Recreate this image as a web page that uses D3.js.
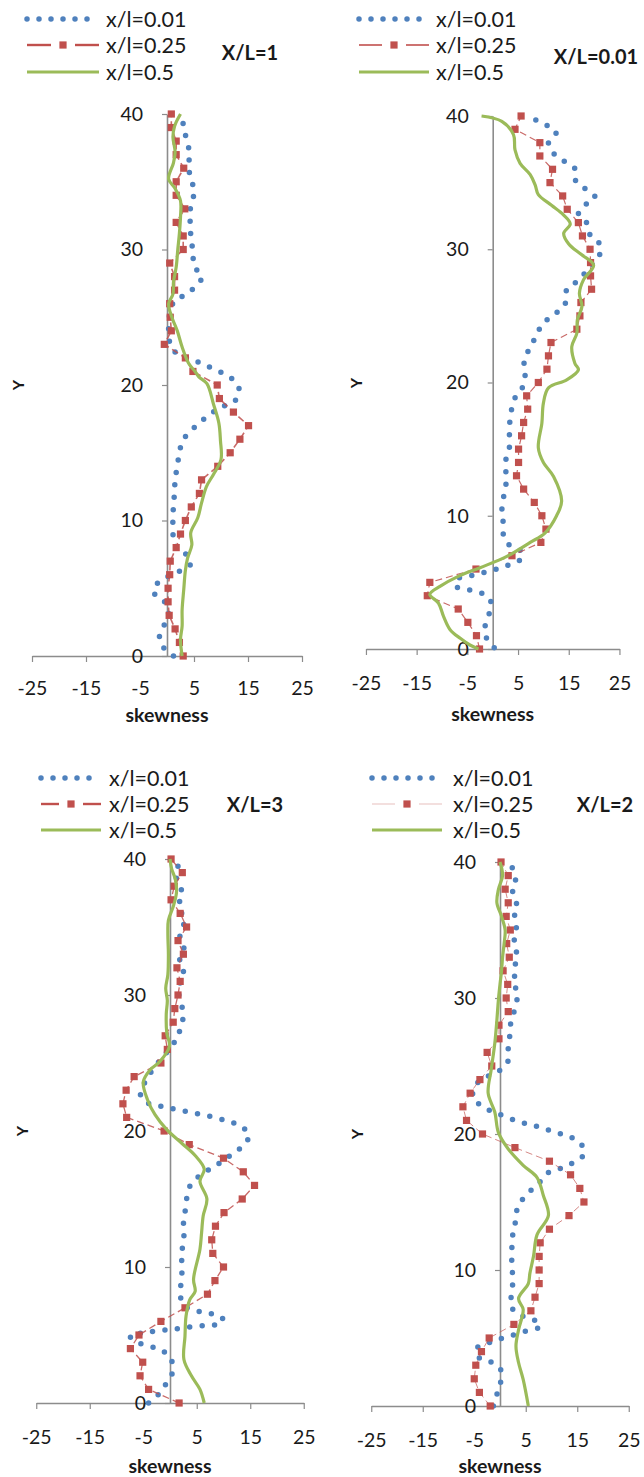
<!DOCTYPE html>
<html>
<head>
<meta charset="utf-8">
<script src="https://cdn.jsdelivr.net/npm/d3@7"></script>
<style>
  html, body { margin: 0; padding: 0; background: #fff; }
  svg { display: block; font-family: Lato, "Open Sans", sans-serif; }
</style>
</head>
<body>
<svg id="chart" width="644" height="1477"></svg>
<script>
// ---- data -------------------------------------------------------------
// Y stations of the x/l=0.25 profiles
const levels = [0,1,2,3,4,5,6,7,8,9,10,11,12,13,14,15,16,17,18,19,20,
                21,22,23,24,25,26,27,28,29,30,31,32,33,34,35,36,37,38,39,40];
const xTickValues = [-25, -15, -5, 5, 15, 25];
const yTickValues = [0, 10, 20, 30, 40];
const seriesNames = ["x/l=0.01", "x/l=0.25", "x/l=0.5"];
const panelTitles = ["X/L=1", "X/L=0.01", "X/L=3", "X/L=2"];

// skewness of x/l=0.25, one value per level
const red_XL1 = [3,2.3,1.5,0.4,0.2,0.2,0.5,0.6,1.7,2.5,3.4,4.5,6,6.4,9.4,11.7,13.5,15.1,12.3,9.7,9.3,
                 4.8,3.4,-0.5,0.8,0.6,0.5,1.4,1.4,0.5,3,3,1.7,3.3,1.7,1.7,3.1,1.7,1.7,0.8,0.8];
const red_XL001 = [-2.6,-3.2,-4.9,-6.8,-12.9,-12.4,-3.3,3.8,9.5,10.5,9.7,8.2,6.1,4.7,5.1,5.1,5.7,6.1,6.9,6.7,9,
                   10.7,11,11.5,16.6,17.2,17.4,19.5,19.3,19.3,19.2,17.7,16.9,14.7,13.8,11.3,11.8,9.3,9.3,4.4,5.6];
const red_XL3 = [1.7,-4,-5.6,-5.1,-7.4,-5.8,-1.7,2.8,7,8.4,10,8,7.8,8.5,10.1,13.5,15.8,13.7,10,3.6,-1.1,
                 -8.1,-8.8,-8.2,-6.7,-1.7,-0.5,-0.9,0.6,0.9,1.5,1.9,1.3,2.5,1.5,3.1,1.9,0.2,0.8,2.3,0.2];
const red_XL2 = [-1.9,-4,-5,-4.7,-3.6,-2.1,2.7,6,6.8,7.6,7.6,7.6,7.8,9.6,13.4,16.3,15.5,13.7,9.6,2.9,-3.4,
                 -6.5,-7.2,-5.8,-3.9,-1.6,-2.5,-0.2,-0.2,1.6,1.2,1.5,0.6,1.8,1.3,2,1.2,1.6,1,1.6,0.2];

// x/l=0.01 profiles as [skewness, Y]
const blue_XL1 = [[1.2,0],[-0.6,0.6],[-1.4,1.4],[-0.5,2.3],[0.3,3.1],[-0.6,4.1],[-2.5,4.7],[-1.7,5.4],
  [2.5,6.3],[4.4,6.8],[3.3,7.6],[1.4,8.2],[1.1,9.1],[1.1,10.2],[1.2,11.1],[1.4,12.1],[1.5,13],[1.9,14],
  [2.3,15],[2.9,15.9],[4.4,16.6],[6.3,17.3],[8.2,17.9],[10.3,18.4],[12.5,18.8],[13.4,19.6],[12.2,20.4],
  [10.2,20.9],[8,21.3],[5.7,21.7],[1.1,22.6],[0.3,24.1],[1.2,26.1],[3.1,26.6],[5.1,27.2],[6.5,28],
  [5.1,28.7],[4.8,29.6],[4.6,30.5],[4.3,31.5],[4.3,32.4],[4.4,33.3],[5.1,34.3],[4.4,35.2],[4,36.2],
  [4.2,37.1],[3.6,38.1],[3.1,39.1],[2.5,40]];
const blue_XL001 = [[0.3,0.1],[-1.2,0.8],[-1.5,1.7],[-0.7,2.65],[-0.4,3.6],[-2.2,4.2],[-4.8,4.45],
  [-7.2,4.7],[-7.1,5.25],[-4.8,5.45],[-2.2,5.7],[0.3,5.95],[2.8,6.25],[5.3,6.65],[5.9,7.25],[3.6,7.7],
  [2.2,8.4],[2.1,9.4],[1.8,10.3],[2.1,11.3],[2.6,12.3],[2.6,13.25],[2.6,14.2],[3.3,15.15],[3.3,16.15],
  [3.4,17.15],[3.8,18.1],[4.6,19],[6.1,19.8],[6.4,20.8],[6.2,21.75],[7.4,22.6],[8.5,23.45],[9.7,24.3],
  [11.6,25],[13.8,25.6],[14.6,26.3],[14.6,27],[16.7,27.6],[19,28.6],[21.1,29.6],[21.3,30.3],[19.3,31],
  [18.6,31.95],[16.9,32.6],[18,33.25],[20.2,33.9],[18.4,34.5],[16.4,35.1],[16.3,36],[14.1,36.6],
  [12,37.2],[11,38],[12.5,38.75],[10.7,39.3],[8.2,39.75]];
const blue_XL3 = [[-4,0],[-2,0.7],[-0.6,1.5],[0.5,2.3],[0.1,3.3],[-1.7,3.9],[-4,4.2],[-6.4,4.5],
  [-7.5,4.95],[-5,5.15],[-2.5,5.3],[-0.1,5.4],[2.2,5.5],[4.8,5.65],[7.3,5.7],[9.8,5.9],[9.7,6.3],
  [7.2,6.6],[4.7,6.8],[2.5,7.2],[1.9,8.2],[2.2,9.1],[2.2,10.2],[2.2,11.1],[2.6,12.05],[2.5,13.1],
  [2.8,14],[3.1,15],[3.8,16],[5.5,16.7],[7.4,17.2],[9.5,17.7],[11.6,18.3],[13.6,18.9],[14.8,19.7],
  [13,20.4],[10.9,20.7],[8.4,21],[5.9,21.2],[3.4,21.4],[0.9,21.6],[-1.4,21.8],[-3.9,22],[-5.5,22.6],
  [-3.6,24.3],[-1.2,25.5],[1.1,26.7],[2,27.6],[2.5,28.6],[2,29.5],[1.5,30.5],[2.6,31.5],[1.8,32.5],
  [2.6,33.5],[1.8,34.5],[2.8,35.5],[1.6,36.5],[2.3,37.5],[1.2,38.5],[1.6,39.3],[0.8,40]];
const blue_XL2 = [[-1.3,0],[-0.6,0.85],[0.1,1.7],[0.1,2.7],[-2.1,3.3],[-4.4,3.65],[-4.4,4.3],
  [-2.1,4.65],[0.5,5],[2.9,5.25],[5.4,5.55],[7.9,5.85],[6.3,6.4],[3.8,6.7],[2.1,7.35],[2.3,8.35],
  [2.5,9.3],[2.3,10.3],[2.3,11.3],[2.4,12.4],[2.9,13.3],[3.2,14.3],[4.2,15.1],[6,15.85],[7.8,16.5],
  [9.5,17.2],[12,17.5],[14.2,17.9],[16.3,18.5],[15.7,19.3],[13.5,19.8],[11,20.1],[8.5,20.4],[6,20.7],
  [3.6,20.9],[1,21.3],[-1.3,21.6],[-3.7,22.1],[-5.3,22.7],[-4.5,23.7],[-2.6,24.2],[-0.3,24.6],
  [1.5,25.3],[1.6,26.3],[1.9,27.25],[2.1,28.2],[2.8,29.1],[3.3,30],[2.8,30.5],[3.3,31],[2.6,32],
  [3.4,33],[2.7,34],[3.2,35],[2.8,36],[3.3,36.5],[3,37.3],[2.4,38],[3,38.5],[2.5,39.5],[1.2,40]];

// x/l=0.5 profiles as [skewness, Y]
const green_XL1 = [[2.8,0],[2.5,1.2],[2.8,2.2],[2.8,3.4],[3.1,4.9],[3.4,6.3],[3.8,7.2],[4.6,8.2],
  [4.4,9.1],[5.7,10.2],[6.4,11.3],[7.3,12.5],[8.6,13.4],[10,14.5],[9.9,15.9],[9.6,17.2],[8.6,18.6],
  [7.4,20.1],[5.9,20.6],[5.2,21],[4,21.6],[2.8,22.8],[1.9,24],[0.9,25],[0.3,26],[1.1,26.7],[1.2,27.6],
  [1.7,28.7],[2,30],[2.3,31.2],[2.5,32.4],[2.5,33.6],[1.5,34.5],[0.3,35.2],[1.2,36.4],[1.5,37.2],
  [1.1,38.3],[1.4,39.1],[2.5,40]];
const green_XL001 = [[-2.8,0],[-4.5,0.3],[-6.4,0.8],[-8.4,1.45],[-9.7,2.45],[-10.7,3.45],[-12.4,4.1],
  [-10.4,4.7],[-6.8,5.45],[-2.5,6.1],[2.8,6.95],[7.4,8],[10.3,8.7],[12.6,10],[13.6,11.1],[12,12.95],
  [10,14],[9,15.1],[9.7,16.95],[10,18.45],[11,19.6],[14.6,20.2],[16.9,20.95],[16.2,21.45],[15.6,22.7],
  [16.6,23.7],[16.7,24.7],[17.6,25.7],[17.1,26.7],[17.9,27.7],[19.9,28.8],[17.5,29.6],[15,30.4],
  [14,31.2],[15.3,31.9],[13.9,32.6],[11.6,33.3],[9,34.1],[8.4,34.8],[7.4,35.6],[5.4,36.45],
  [4.4,37.45],[4.1,38.6],[1.8,39.6],[-2.2,40]];
const green_XL3 = [[6.4,0],[5.6,1],[4,2],[2.6,3.2],[2.8,4.9],[3,6.4],[3.7,7.6],[4.7,8.2],[4.4,9.1],
  [5.6,11.3],[5.9,12.5],[6.2,13.75],[6.9,15],[5.6,16.3],[6.4,17.2],[4.7,18.2],[2.2,19.1],[-0.6,20.1],
  [-2.8,21.2],[-4.2,22.3],[-5,23.6],[-3.7,24.5],[-1.9,25.1],[-0.1,26.25],[-0.6,27.2],[-0.7,28.6],
  [-0.5,29.6],[-0.8,30.5],[-0.4,31.5],[-0.3,33],[-0.4,34.5],[-0.3,35.5],[0.6,36.5],[1.2,37.5],
  [1,38.5],[0.3,39.3],[0,40]];
const green_XL2 = [[5.5,0],[4.5,1.95],[3.6,3.2],[3.1,4.4],[3.6,5.6],[4.5,7.1],[3.6,7.9],[5.5,9],
  [5.8,9.75],[6.5,11],[7.2,12.6],[9.4,14],[8.4,15.5],[7.2,16.8],[4.5,17.7],[1.6,18.9],[-0.3,20.1],
  [-1,21.6],[-2.3,23],[-1.7,24.75],[-1,26.7],[-0.6,28.4],[-0.3,29.9],[0,31],[0.3,32],[0.5,33],
  [0.8,34],[1,35],[0.3,36],[-0.6,37],[-0.3,38],[0.5,39],[0,40]];

// ---- styling ----------------------------------------------------------
const BLUE = "#4f81bd", RED = "#c0504d", GREEN = "#9bbb59", AXIS = "#8c8c8c", TEXT = "#1a1a1a";

// layout of the four panels (pixels)
const panels = [
  { title: panelTitles[0], red: red_XL1, blue: blue_XL1, green: green_XL1,
    x0: 167, kx: 5.4, yBottom: 656, yTop: 114,
    legX1: 27, legX2: 99, legTextX: 106, legY: [19, 45, 72], redLeg: { w: 2.4, op: 1 },
    titleX: 250, titleY: 53, yLabX: 18, yLabY: 385, tickLabY: 688, axTitleY: 715, redLine: 1.6 },
  { title: panelTitles[1], red: red_XL001, blue: blue_XL001, green: green_XL001,
    x0: 492.7, kx: 5.07, yBottom: 649, yTop: 116,
    legX1: 359, legX2: 429, legTextX: 436, legY: [19, 45, 72], redLeg: { w: 1.6, op: 1 },
    titleX: 596, titleY: 57, yLabX: 356, yLabY: 383, tickLabY: 683, axTitleY: 714, redLine: 1.2 },
  { title: panelTitles[2], red: red_XL3, blue: blue_XL3, green: green_XL3,
    x0: 170, kx: 5.35, yBottom: 1403, yTop: 859,
    legX1: 41, legX2: 101, legTextX: 109, legY: [778, 804, 830], redLeg: { w: 2.4, op: 1 },
    titleX: 255, titleY: 805, yLabX: 22, yLabY: 1131, tickLabY: 1437, axTitleY: 1466, redLine: 1.3 },
  { title: panelTitles[3], red: red_XL2, blue: blue_XL2, green: green_XL2,
    x0: 500, kx: 5.15, yBottom: 1406, yTop: 862,
    legX1: 372, legX2: 442, legTextX: 453, legY: [778, 804, 830], redLeg: { w: 0.8, op: 0.45 },
    titleX: 605, titleY: 805, yLabX: 357, yLabY: 1134, tickLabY: 1440, axTitleY: 1466, redLine: 0.8 }
];

const svg = d3.select("#chart");

panels.forEach(p => {
  const g = svg.append("g");
  const x = d3.scaleLinear().domain([-25, 25]).range([p.x0 - 25 * p.kx, p.x0 + 25 * p.kx]);
  const y = d3.scaleLinear().domain([0, 40]).range([p.yBottom, p.yTop]);

  // horizontal axis along Y = 0
  const xAxis = g.append("g")
    .attr("transform", `translate(0,${y(0)})`)
    .call(d3.axisBottom(x).tickValues(xTickValues).tickFormat(d => String(d))
      .tickSizeInner(6).tickSizeOuter(0).tickPadding(p.tickLabY - y(0) - 13));
  // vertical axis through skewness = 0
  const yAxis = g.append("g")
    .attr("transform", `translate(${x(0)},0)`)
    .call(d3.axisLeft(y).tickValues(yTickValues).tickFormat(d => String(d))
      .tickSizeInner(5).tickSizeOuter(0).tickPadding(19));
  [xAxis, yAxis].forEach(a => {
    a.select(".domain").attr("stroke", AXIS).attr("stroke-width", 1.6);
    a.selectAll(".tick line").attr("stroke", AXIS).attr("stroke-width", 1.2);
    a.selectAll(".tick text").attr("fill", TEXT).style("font-size", "19.5px")
      .style("font-family", "Lato, 'Open Sans', sans-serif");
  });

  const line = d3.line().x(d => x(d[0])).y(d => y(d[1]));
  const smooth = d3.line().x(d => x(d[0])).y(d => y(d[1])).curve(d3.curveCatmullRom.alpha(0.5));

  // x/l=0.01 : round-dot line
  g.append("path").datum(p.blue)
    .attr("d", smooth).attr("fill", "none").attr("stroke", BLUE)
    .attr("stroke-width", 5.5).attr("stroke-linecap", "round").attr("stroke-dasharray", "0 12.5");

  // x/l=0.25 : dashed line with square markers
  const redPts = levels.map((lv, i) => [p.red[i], lv]);
  g.append("path").datum(redPts)
    .attr("d", line).attr("fill", "none").attr("stroke", RED)
    .attr("stroke-width", p.redLine).attr("stroke-dasharray", "7 4").attr("opacity", 0.85);
  g.selectAll("rect.mk").data(redPts).enter().append("rect")
    .attr("class", "mk")
    .attr("x", d => x(d[0]) - 3.6).attr("y", d => y(d[1]) - 3.6)
    .attr("width", 7.2).attr("height", 7.2).attr("fill", RED);

  // x/l=0.5 : solid smooth line
  g.append("path").datum(p.green)
    .attr("d", smooth).attr("fill", "none").attr("stroke", GREEN)
    .attr("stroke-width", 3.2).attr("stroke-linejoin", "round");

  // legend
  const lg = g.append("g");
  const mid = (p.legX1 + p.legX2) / 2;
  lg.append("line").attr("x1", p.legX1).attr("x2", p.legX2).attr("y1", p.legY[0]).attr("y2", p.legY[0])
    .attr("stroke", BLUE).attr("stroke-width", 5.5).attr("stroke-linecap", "round")
    .attr("stroke-dasharray", "0 12");
  lg.append("line").attr("x1", p.legX1).attr("x2", mid - 12).attr("y1", p.legY[1]).attr("y2", p.legY[1])
    .attr("stroke", RED).attr("stroke-width", p.redLeg.w).attr("opacity", p.redLeg.op);
  lg.append("line").attr("x1", mid + 12).attr("x2", p.legX2).attr("y1", p.legY[1]).attr("y2", p.legY[1])
    .attr("stroke", RED).attr("stroke-width", p.redLeg.w).attr("opacity", p.redLeg.op);
  lg.append("rect").attr("x", mid - 3.6).attr("y", p.legY[1] - 3.6).attr("width", 7.2).attr("height", 7.2)
    .attr("fill", RED);
  lg.append("line").attr("x1", p.legX1).attr("x2", p.legX2).attr("y1", p.legY[2]).attr("y2", p.legY[2])
    .attr("stroke", GREEN).attr("stroke-width", 3.2);
  seriesNames.forEach((name, i) => {
    lg.append("text").attr("x", p.legTextX).attr("y", p.legY[i]).attr("dy", "0.35em")
      .attr("fill", TEXT).style("font-size", "21.5px").text(name);
  });

  // panel title
  g.append("text").attr("x", p.titleX).attr("y", p.titleY).attr("dy", "0.35em")
    .attr("text-anchor", "middle").attr("fill", TEXT)
    .style("font-size", "20px").style("font-weight", "bold").text(p.title);

  // axis titles
  g.append("text").attr("x", x(0)).attr("y", p.axTitleY).attr("dy", "0.35em")
    .attr("text-anchor", "middle").attr("fill", TEXT)
    .style("font-size", "19.5px").style("font-weight", "bold").text("skewness");
  g.append("text").attr("transform", `translate(${p.yLabX},${p.yLabY}) rotate(-90)`)
    .attr("dy", "0.35em").attr("text-anchor", "middle").attr("fill", TEXT)
    .style("font-size", "16px").style("font-weight", "bold").text("Y");
});
</script>
</body>
</html>
